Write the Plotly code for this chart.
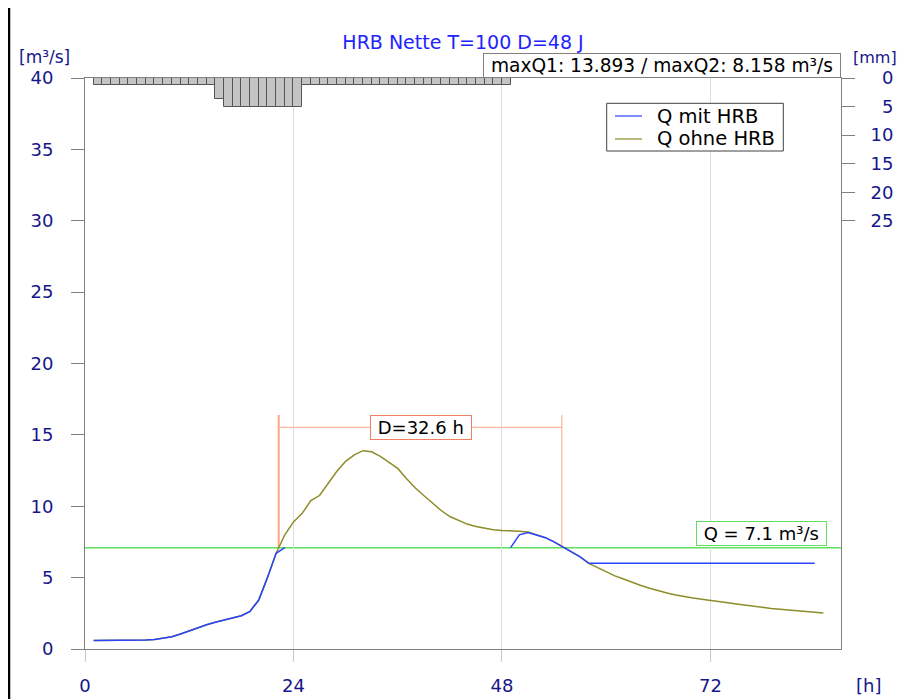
import plotly.graph_objects as go

# ---------------- data ----------------
hours = list(range(1, 86))

q_ohne = [0.6, 0.6, 0.6, 0.6, 0.6, 0.61, 0.63, 0.67, 0.74, 0.86,
          1.05, 1.27, 1.5, 1.7, 1.87, 2.02, 2.17, 2.33, 2.64, 3.43,
          5.0, 6.7, 8.0, 8.9, 9.5, 10.4, 10.75, 11.6, 12.45, 13.15,
          13.6, 13.893, 13.82, 13.5, 13.1, 12.65, 11.95, 11.3, 10.75, 10.2,
          9.7, 9.28, 9.0, 8.75, 8.58, 8.45, 8.35, 8.3, 8.3, 8.25,
          8.2, 8.0, 7.8, 7.5, 7.16, 6.8, 6.45, 6.0, 5.7, 5.4,
          5.12, 4.9, 4.66, 4.45, 4.25, 4.07, 3.92, 3.79, 3.67, 3.57,
          3.49, 3.42, 3.33, 3.24, 3.15, 3.06, 2.97, 2.9, 2.84, 2.78,
          2.72, 2.66, 2.61, 2.57, 2.53]

q_mit = ([0.6, 0.6, 0.6, 0.6, 0.6, 0.61, 0.63, 0.67, 0.74, 0.86,
          1.05, 1.27, 1.5, 1.7, 1.87, 2.02, 2.17, 2.33, 2.64, 3.43,
          5.0, 6.7, 7.1]
         + [None] * 25
         + [7.1, 8.0, 8.158, 8.0, 7.8, 7.5, 7.16, 6.8, 6.45, 6.0]
         + [6.0] * 26
         + [None])

rain_hours = [h + 0.5 for h in range(1, 49)]
rain_mm = [1.16] * 14 + [3.6] + [5.1] * 9 + [1.16] * 24

series_names = ["Q mit HRB", "Q ohne HRB"]

q_threshold = 7.1
d_start = 22.3
d_end = 54.9
max_q1 = 13.893
max_q2 = 8.158

x_ticks = [0, 24, 48, 72]
y_ticks = [0, 5, 10, 15, 20, 25, 30, 35, 40]
mm_ticks = [0, 5, 10, 15, 20, 25]
mm_labels = ["\u2007" + str(v) if v < 10 else str(v) for v in mm_ticks]

# ---------------- style ----------------
FONT = "DejaVu Sans"
NAVY = "#16168a"
BLUE = "#2a44ff"
OLIVE = "#8c8c28"
GREEN = "#5fdf5f"
SALMON = "#ffa585"
GREY = "#808080"
NB = "\u00a0"

OFF = 8                      # page body margin
W, H = 905 - OFF, 699 - OFF
L, R, T, B = 77, 64, 70, 50
PW, PH = W - L - R, H - T - B


def px_x(sx):
    return (sx - OFF - L) / PW


def px_y(sy):
    return 1 - (sy - OFF - T) / PH


fig = go.Figure()

fig.add_trace(go.Bar(
    x=rain_hours, y=rain_mm, width=1, yaxis="y2",
    marker=dict(color="#c4c4c4", line=dict(color="#555555", width=1)),
    showlegend=False, hoverinfo="skip"))

fig.add_trace(go.Scatter(
    x=hours, y=q_ohne, mode="lines", name=series_names[1],
    line=dict(color=OLIVE, width=1.5), showlegend=False))

fig.add_trace(go.Scatter(
    x=hours, y=q_mit, mode="lines", name=series_names[0],
    line=dict(color=BLUE, width=1.5), connectgaps=False, showlegend=False))

fig.update_layout(
    width=W, height=H,
    margin=dict(l=L, r=R, t=T, b=B, autoexpand=False),
    paper_bgcolor="white", plot_bgcolor="white",
    font=dict(family=FONT, size=18, color=NAVY),
    bargap=0,
    title=dict(text="HRB Nette T=100 D=48 J", x=0.5, xref="paper",
               y=1 - (42 - OFF) / H, yref="container", yanchor="middle", xanchor="center",
               font=dict(family=FONT, size=19, color="#2222ff")),
    xaxis=dict(range=[0, 87.03], tickvals=x_ticks, ticks="outside", ticklen=12,
               tickcolor="#c8c8c8", showgrid=True, gridcolor="#dcdcdc", gridwidth=1,
               showline=True, linecolor=GREY, mirror=True, zeroline=False,
               tickfont=dict(size=18, color=NAVY), ticklabelstandoff=8,
               automargin=False),
    yaxis=dict(range=[0, 40], tickvals=y_ticks, ticks="outside", ticklen=13,
               tickcolor=GREY, showgrid=False, showline=True, linecolor=GREY,
               zeroline=False, tickfont=dict(size=18, color=NAVY),
               ticklabelstandoff=14, automargin=False),
    yaxis2=dict(overlaying="y", side="right", anchor="x", range=[100, 0],
                tickvals=mm_ticks, ticktext=mm_labels, ticks="outside", ticklen=13,
                tickcolor=GREY, showgrid=False, showline=True, linecolor=GREY,
                zeroline=False, tickfont=dict(size=18, color=NAVY),
                ticklabelstandoff=12, automargin=False),
    showlegend=False,
)

shapes = [
    dict(type="line", xref="paper", x0=0, x1=1, yref="y", y0=q_threshold, y1=q_threshold,
         line=dict(color=GREEN, width=1.5), layer="below"),
    dict(type="line", xref="x", x0=d_start, x1=d_start, yref="y", y0=q_threshold, y1=16.4,
         line=dict(color=SALMON, width=2), layer="below"),
    dict(type="line", xref="x", x0=d_end, x1=d_end, yref="y", y0=q_threshold, y1=16.4,
         line=dict(color=SALMON, width=1), layer="below"),
    dict(type="line", xref="x", x0=d_start, x1=d_end, yref="y", y0=15.53, y1=15.53,
         line=dict(color=SALMON, width=1), layer="below"),
    # frame line at the left edge
    dict(type="line", xref="paper", x0=px_x(9), x1=px_x(9), yref="paper",
         y0=px_y(0), y1=px_y(H + OFF), line=dict(color="black", width=2.5)),
    # legend box and samples
    dict(type="rect", xref="paper", yref="paper", x0=px_x(606.7), x1=px_x(783.3),
         y0=px_y(151), y1=px_y(103.3), line=dict(color="#404040", width=1),
         fillcolor="white"),
    dict(type="line", xref="paper", yref="paper", x0=px_x(615), x1=px_x(642),
         y0=px_y(116), y1=px_y(116), line=dict(color=BLUE, width=1.2)),
    dict(type="line", xref="paper", yref="paper", x0=px_x(615), x1=px_x(642),
         y0=px_y(139), y1=px_y(139), line=dict(color=OLIVE, width=1.2)),
]
fig.update_layout(shapes=shapes)

annotations = [
    dict(text="[m³/s]", xref="paper", yref="paper", x=px_x(44), y=px_y(57),
         xanchor="center", yanchor="middle", showarrow=False,
         font=dict(family=FONT, size=17, color=NAVY)),
    dict(text="[mm]", xref="paper", yref="paper", x=px_x(875), y=px_y(58),
         xanchor="center", yanchor="middle", showarrow=False,
         font=dict(family=FONT, size=16, color=NAVY)),
    dict(text="[h]", xref="paper", yref="paper", x=px_x(868), y=px_y(685),
         xanchor="center", yanchor="middle", showarrow=False,
         font=dict(family=FONT, size=18, color=NAVY)),
    dict(text=f"{NB}maxQ1: {max_q1:.3f} / maxQ2: {max_q2:.3f} m³/s{NB}",
         xref="paper", yref="paper",
         x=1, y=1, xanchor="right", yanchor="bottom", showarrow=False,
         bordercolor=GREY, borderwidth=1, borderpad=1, bgcolor="white",
         font=dict(family=FONT, size=18.6, color="black")),
    dict(text=f"{NB}D={d_end - d_start:.1f} h{NB}", xref="x", yref="y",
         x=(d_start + d_end) / 2 + 0.05,
         y=15.53, xanchor="center", yanchor="middle", showarrow=False,
         bordercolor="#f08060", borderwidth=1, borderpad=1, bgcolor="white",
         font=dict(family=FONT, size=18, color="black")),
    dict(text=f"{NB}Q = {q_threshold} m³/s{NB}", xref="x", yref="y", x=77.9, y=8.1,
         xanchor="center", yanchor="middle", showarrow=False,
         bordercolor=GREEN, borderwidth=1, borderpad=1, bgcolor="white",
         font=dict(family=FONT, size=18, color="black")),
    dict(text=series_names[0], xref="paper", yref="paper", x=px_x(655), y=px_y(116),
         xanchor="left", yanchor="middle", showarrow=False,
         font=dict(family=FONT, size=19.5, color="black")),
    dict(text=series_names[1], xref="paper", yref="paper", x=px_x(655), y=px_y(139),
         xanchor="left", yanchor="middle", showarrow=False,
         font=dict(family=FONT, size=19.5, color="black")),
]
fig.update_layout(annotations=annotations)

fig.write_html("out.html")
